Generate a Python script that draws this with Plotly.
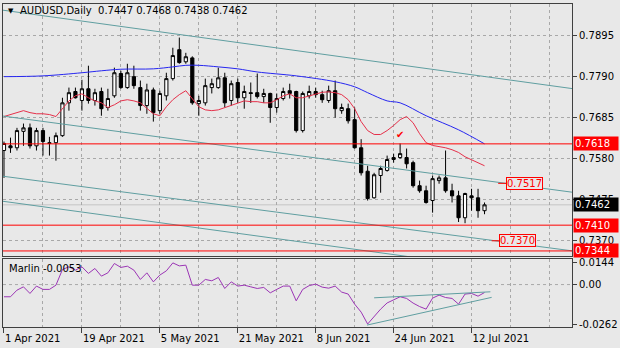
import pandas as pd
import plotly.graph_objects as go

# ---- data -------------------------------------------------------------
sessions = pd.bdate_range("2021-04-01", "2021-07-14")   # daily bars, 75 sessions
bars = list(range(len(sessions)))

opens = [0.7601, 0.7613, 0.7608, 0.7650, 0.7659, 0.7613, 0.7652, 0.7621, 0.7621, 0.7639,
         0.7723, 0.7752, 0.7729, 0.7759, 0.7729, 0.7752, 0.7711, 0.7741, 0.7798, 0.7762,
         0.7790, 0.7762, 0.7716, 0.7756, 0.7703, 0.7741, 0.7785, 0.7859, 0.7828, 0.7838,
         0.7721, 0.7723, 0.7762, 0.7762, 0.7787, 0.7729, 0.7775, 0.7736, 0.7749, 0.7749,
         0.7739, 0.7747, 0.7711, 0.7734, 0.7754, 0.7752, 0.7652, 0.7741, 0.7752, 0.7744,
         0.7729, 0.7754, 0.7703, 0.7708, 0.7680, 0.7608, 0.7548, 0.7480, 0.7537, 0.7550,
         0.7578, 0.7583, 0.7583, 0.7570, 0.7511, 0.7498, 0.7473, 0.7524, 0.7531, 0.7498,
         0.7485, 0.7429, 0.7485, 0.7480, 0.7447]
highs = [0.7624, 0.7634, 0.7659, 0.7670, 0.7670, 0.7659, 0.7659, 0.7636, 0.7647, 0.7736,
         0.7762, 0.7762, 0.7782, 0.7818, 0.7759, 0.7762, 0.7759, 0.7813, 0.7805, 0.7823,
         0.7818, 0.7780, 0.7772, 0.7762, 0.7754, 0.7800, 0.7864, 0.7890, 0.7851, 0.7842,
         0.7741, 0.7785, 0.7785, 0.7813, 0.7800, 0.7780, 0.7785, 0.7767, 0.7775, 0.7798,
         0.7759, 0.7749, 0.7747, 0.7762, 0.7772, 0.7754, 0.7752, 0.7767, 0.7762, 0.7754,
         0.7767, 0.7780, 0.7721, 0.7721, 0.7711, 0.7630, 0.7562, 0.7544, 0.7562, 0.7588,
         0.7593, 0.7619, 0.7606, 0.7575, 0.7524, 0.7511, 0.7537, 0.7537, 0.7601, 0.7516,
         0.7498, 0.7493, 0.7503, 0.7503, 0.7468]
lows = [0.7531, 0.7595, 0.7601, 0.7613, 0.7606, 0.7601, 0.7588, 0.7588, 0.7575, 0.7636,
        0.7703, 0.7734, 0.7703, 0.7721, 0.7716, 0.7690, 0.7703, 0.7736, 0.7759, 0.7759,
        0.7759, 0.7703, 0.7695, 0.7675, 0.7695, 0.7729, 0.7780, 0.7823, 0.7823, 0.7718,
        0.7690, 0.7716, 0.7747, 0.7759, 0.7711, 0.7716, 0.7723, 0.7708, 0.7723, 0.7734,
        0.7723, 0.7672, 0.7698, 0.7729, 0.7734, 0.7647, 0.7647, 0.7734, 0.7736, 0.7723,
        0.7723, 0.7685, 0.7695, 0.7670, 0.7606, 0.7537, 0.7473, 0.7478, 0.7493, 0.7547,
        0.7570, 0.7580, 0.7555, 0.7506, 0.7493, 0.7465, 0.7442, 0.7516, 0.7493, 0.7468,
        0.7418, 0.7415, 0.7447, 0.7429, 0.7438]
closes = [0.7619, 0.7608, 0.7652, 0.7659, 0.7613, 0.7652, 0.7624, 0.7619, 0.7639, 0.7723,
          0.7749, 0.7736, 0.7759, 0.7729, 0.7749, 0.7708, 0.7734, 0.7800, 0.7762, 0.7800,
          0.7767, 0.7716, 0.7756, 0.7698, 0.7747, 0.7785, 0.7844, 0.7826, 0.7841, 0.7723,
          0.7729, 0.7767, 0.7772, 0.7787, 0.7723, 0.7772, 0.7736, 0.7752, 0.7747, 0.7739,
          0.7747, 0.7711, 0.7734, 0.7752, 0.7747, 0.7652, 0.7747, 0.7752, 0.7744, 0.7731,
          0.7754, 0.7708, 0.7711, 0.7677, 0.7608, 0.7544, 0.7478, 0.7539, 0.7555, 0.7578,
          0.7583, 0.7593, 0.7567, 0.7511, 0.7498, 0.7468, 0.7529, 0.7531, 0.7498, 0.7485,
          0.7429, 0.7491, 0.7480, 0.7447, 0.7462]

# fast moving average (red), one value per bar
ma_fast = [0.7688, 0.7693, 0.7698, 0.7703, 0.7698, 0.7695, 0.7695, 0.7693, 0.7688, 0.7708,
           0.7728, 0.7741, 0.7746, 0.7736, 0.7728, 0.7723, 0.7711, 0.7718, 0.7728, 0.7731,
           0.7728, 0.7723, 0.7708, 0.7695, 0.7690, 0.7713, 0.7731, 0.7744, 0.7754, 0.7733,
           0.7713, 0.7705, 0.7703, 0.7705, 0.7711, 0.7718, 0.7723, 0.7728, 0.7726, 0.7726,
           0.7723, 0.7723, 0.7731, 0.7741, 0.7746, 0.7736, 0.7736, 0.7741, 0.7746, 0.7750,
           0.7751, 0.7749, 0.7744, 0.7731, 0.7708, 0.7675, 0.7652, 0.7642, 0.7642, 0.7652,
           0.7665, 0.7680, 0.7688, 0.7672, 0.7644, 0.7621, 0.7614, 0.7611, 0.7608, 0.7603,
           0.7596, 0.7585, 0.7578, 0.7570, 0.7562]

# slow moving average (blue), sampled bars
ma_slow_bars = [0, 6, 12, 15, 18, 23, 26, 28, 30, 33, 36, 39, 45, 51, 54, 56, 59, 61, 65, 70, 74]
ma_slow = [0.7790, 0.7792, 0.7800, 0.7805, 0.7809, 0.7810, 0.7815, 0.7819, 0.7819, 0.7815,
           0.7810, 0.7802, 0.7792, 0.7777, 0.7764, 0.7749, 0.7728, 0.7723, 0.7690, 0.7654,
           0.7618]

# Marlin oscillator, one value per bar
marlin = [-0.0081, -0.0081, -0.0037, -0.0015, -0.0059, -0.0010, -0.0032, -0.0032, -0.0004, 0.0100,
          0.0118, 0.0096, 0.0118, 0.0074, 0.0107, 0.0056, 0.0078, 0.0140, 0.0114, 0.0122,
          0.0096, 0.0034, 0.0078, 0.0018, 0.0063, 0.0091, 0.0144, 0.0124, 0.0129, -0.0004,
          -0.0004, 0.0034, 0.0025, 0.0047, -0.0026, 0.0018, -0.0010, -0.0004, -0.0015, -0.0026,
          -0.0019, -0.0055, -0.0032, -0.0010, -0.0010, -0.0108, -0.0032, -0.0007, 0.0003, -0.0017,
          -0.0024, -0.0010, -0.0050, -0.0063, -0.0130, -0.0183, -0.0262, -0.0209, -0.0163, -0.0122,
          -0.0103, -0.0081, -0.0092, -0.0123, -0.0146, -0.0163, -0.0090, -0.0070, -0.0086, -0.0092,
          -0.0130, -0.0063, -0.0059, -0.0077, -0.0053]

# descending channel lines: (bar0, price0, bar1, price1)
channel_lines = [(-1.0, 0.7962, 89.0, 0.7756),
                 (-1.0, 0.7691, 89.0, 0.7491),
                 (-1.0, 0.7537, 89.0, 0.7341),
                 (-1.0, 0.7473, 89.0, 0.7269)]
# wedge on the oscillator: (bar0, value0, bar1, value1)
marlin_lines = [(57.0, -0.0088, 74.9, -0.0048),
                (55.9, -0.0269, 75.1, -0.0085)]

levels = [0.7618, 0.7410, 0.7344]                 # horizontal support / resistance
targets = [(76.1, 0.7517), (75.1, 0.7370)]        # price tags on the channel lines
price_ticks = [0.7895, 0.7790, 0.7685, 0.7580, 0.7475, 0.7370]
marlin_ticks = [0.0144, 0.0, -0.0262]
marlin_ticktext = ["0.0144", "0.00", "-0.0262"]
date_ticks = [0, 12, 24, 36, 48, 60, 72]
grid_bars = [6, 18, 30, 42, 54, 66, 78, 84]

# ---- style ------------------------------------------------------------
FONT = "DejaVu Sans"
BG = "#E8E8E8"
GRID = "#A8A8A8"
FRAME = "#404040"
TEAL = "#5F9EA0"
RED = "#FF0000"
FS = 10

fig = go.Figure()

fig.add_trace(go.Candlestick(
    x=bars, open=opens, high=highs, low=lows, close=closes,
    xaxis="x", yaxis="y", whiskerwidth=0,
    increasing=dict(line=dict(color="black", width=1), fillcolor="white"),
    decreasing=dict(line=dict(color="black", width=1), fillcolor="black"),
    hoverinfo="skip", showlegend=False))

fig.add_trace(go.Scatter(x=bars, y=ma_fast, mode="lines", xaxis="x", yaxis="y",
                         line=dict(color="#E5304A", width=1), showlegend=False, hoverinfo="skip"))
fig.add_trace(go.Scatter(x=ma_slow_bars, y=ma_slow, mode="lines", line_shape="spline",
                         xaxis="x", yaxis="y",
                         line=dict(color="#2626F0", width=1), showlegend=False, hoverinfo="skip"))

for b0, p0, b1, p1 in channel_lines:
    fig.add_trace(go.Scatter(x=[b0, b1], y=[p0, p1], mode="lines", xaxis="x", yaxis="y",
                             line=dict(color=TEAL, width=1), showlegend=False, hoverinfo="skip"))

fig.add_trace(go.Scatter(x=bars, y=marlin, mode="lines", xaxis="x2", yaxis="y2",
                         line=dict(color="#9B35B5", width=1), showlegend=False, hoverinfo="skip"))
for b0, v0, b1, v1 in marlin_lines:
    fig.add_trace(go.Scatter(x=[b0, b1], y=[v0, v1], mode="lines", xaxis="x2", yaxis="y2",
                             line=dict(color=TEAL, width=1), showlegend=False, hoverinfo="skip"))

shapes = []
# bid line
shapes.append(dict(type="line", xref="x domain", yref="y", x0=0, x1=1,
                   y0=closes[-1], y1=closes[-1], line=dict(color="#C4C4C4", width=1), layer="below"))
for lv in levels:
    shapes.append(dict(type="line", xref="x domain", yref="y", x0=0, x1=1, y0=lv, y1=lv,
                       line=dict(color=RED, width=1)))
# zero level of the oscillator
shapes.append(dict(type="line", xref="x2 domain", yref="y2", x0=0, x1=1, y0=0, y1=0,
                   line=dict(color=GRID, width=1, dash="dot"), layer="below"))

annotations = []
# price tags on the right scale
for lv in levels:
    annotations.append(dict(xref="paper", x=1, xanchor="left", xshift=1, yref="y", y=lv,
                            text=f"{lv:.4f}", showarrow=False, align="left", width=42,
                            bgcolor=RED, borderpad=1,
                            font=dict(family=FONT, size=FS, color="white")))
annotations.append(dict(xref="paper", x=1, xanchor="left", xshift=1, yref="y", y=closes[-1],
                        text=f"{closes[-1]:.4f}", showarrow=False, align="left", width=42,
                        bgcolor="black", borderpad=1,
                        font=dict(family=FONT, size=FS, color="white")))
# channel targets
for b, p in targets:
    annotations.append(dict(xref="x", yref="y", x=b, y=p, text=f"{p:.4f}",
                            showarrow=True, arrowhead=0, arrowwidth=1, arrowcolor=RED,
                            ax=26, ay=0, bordercolor=RED, borderwidth=1, borderpad=0,
                            bgcolor=BG, font=dict(family=FONT, size=FS, color=RED)))
# check mark above the 25 Jun high
annotations.append(dict(xref="x", yref="y", x=61, y=highs[61], yshift=9, text="✔",
                        showarrow=False, font=dict(family=FONT, size=10, color=RED)))
# header and indicator caption
header = "AUDUSD,Daily  " + " ".join(f"{v:.4f}" for v in (opens[-1], highs[-1], lows[-1], closes[-1]))
annotations.append(dict(xref="paper", yref="paper", x=0.0045, y=0.979, xanchor="left",
                        yanchor="middle", text="▼", showarrow=False,
                        font=dict(family=FONT, size=7, color="black")))
annotations.append(dict(xref="paper", yref="paper", x=0.026, y=0.979, xanchor="left",
                        yanchor="middle", text=header, showarrow=False,
                        font=dict(family=FONT, size=FS, color="black")))
annotations.append(dict(xref="paper", yref="paper", x=0.007, y=0.182, xanchor="left",
                        yanchor="middle", text=f"Marlin {marlin[-1]:.4f}", showarrow=False,
                        font=dict(family=FONT, size=FS, color="black")))

xrange = [-0.153, 87.47]
axis_common = dict(showline=True, mirror=True, linecolor=FRAME, linewidth=1, zeroline=False)
minor_grid = dict(tickmode="array", tickvals=grid_bars, showgrid=True, gridcolor=GRID,
                  griddash="dot", gridwidth=1, ticklen=0)

fig.update_layout(
    width=620, height=348,
    margin=dict(l=2, r=46, t=3, b=21),
    paper_bgcolor=BG, plot_bgcolor=BG,
    font=dict(family=FONT, size=FS, color="black"),
    showlegend=False,
    xaxis=dict(domain=[0, 1], anchor="y", range=xrange, matches="x2",
               tickvals=date_ticks, showticklabels=False, ticks="",
               showgrid=True, gridcolor=GRID, griddash="dot", gridwidth=1,
               minor=minor_grid, rangeslider=dict(visible=False), **axis_common),
    yaxis=dict(domain=[0.2191, 1], anchor="x", side="right", range=[0.73305, 0.79759],
               tickvals=price_ticks, ticktext=[f"{t:.4f}" for t in price_ticks],
               ticks="outside", ticklen=4, tickcolor=FRAME,
               showgrid=True, gridcolor=GRID, griddash="dot", gridwidth=1, **axis_common),
    xaxis2=dict(domain=[0, 1], anchor="y2", range=xrange,
                tickvals=date_ticks,
                ticktext=[sessions[i].strftime("%-d %b %Y") for i in date_ticks],
                ticks="outside", ticklen=5, tickcolor=FRAME,
                ticklabelposition="outside right", ticklabelstandoff=2,
                showgrid=True, gridcolor=GRID, griddash="dot", gridwidth=1,
                minor=minor_grid, **axis_common),
    yaxis2=dict(domain=[0, 0.2099], anchor="x2", side="right", range=[-0.02818, 0.01685],
                tickvals=marlin_ticks, ticktext=marlin_ticktext,
                ticks="outside", ticklen=4, tickcolor=FRAME, showgrid=False, **axis_common),
    shapes=shapes,
    annotations=annotations,
)

fig.write_html("out.html")
